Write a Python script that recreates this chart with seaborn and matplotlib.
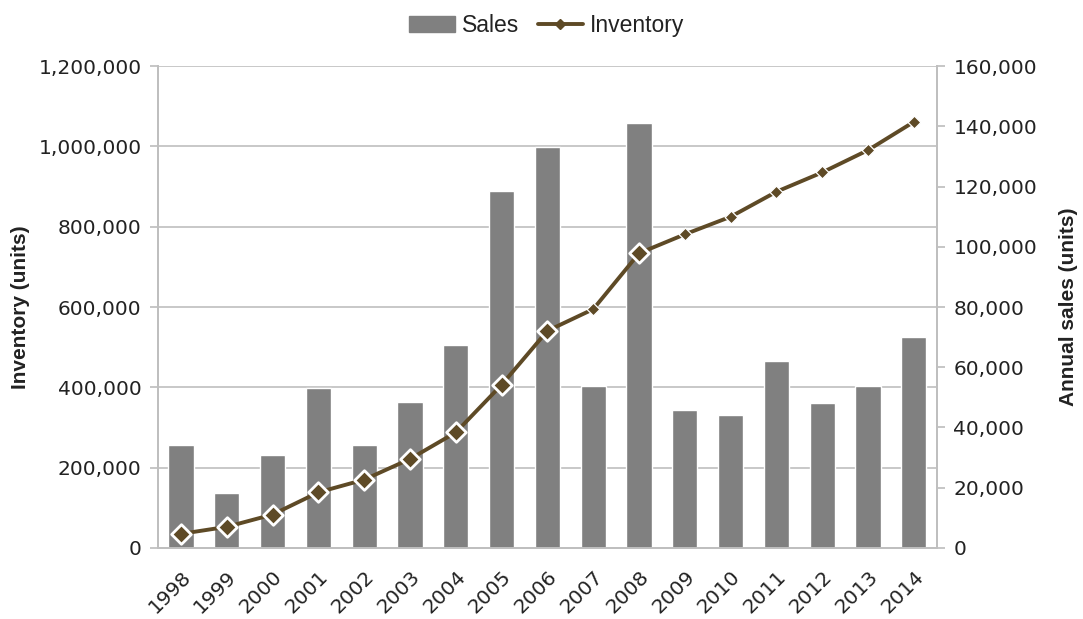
import matplotlib.pyplot as plt
import matplotlib.ticker as mticker
from matplotlib.patches import Patch
from matplotlib.lines import Line2D
import numpy as np
import pandas as pd
import seaborn as sns

years = [1998, 1999, 2000, 2001, 2002, 2003, 2004, 2005, 2006,
         2007, 2008, 2009, 2010, 2011, 2012, 2013, 2014]
sales = [34000, 18300, 30900, 53200, 34000, 48400, 67400, 118600, 133300,
         53900, 141200, 45900, 44200, 62200, 48100, 53900, 70200]
inventory = [34800, 52300, 82900, 138300, 169900, 221400, 287600, 406300, 540700,
             594700, 734000, 781200, 825000, 887300, 935500, 991000, 1061400]
outlined_years = [1998, 1999, 2000, 2001, 2002, 2003, 2004, 2005, 2006, 2008]

df = pd.DataFrame({"year": [str(y) for y in years], "pos": np.arange(len(years)),
                   "sales": sales, "inventory": inventory})
df["outlined"] = [y in outlined_years for y in years]

sns.set_theme(style="white")
plt.rcParams['font.family'] = ['DejaVu Sans']

bar_color = "#808080"
line_color = "#5E4A26"
grid_color = "#BFBFBF"
text_color = "#222222"
narrow = ['Liberation Sans Narrow', 'Liberation Sans', 'DejaVu Sans']

fig = plt.figure(figsize=(10.83, 6.19), dpi=100)
ax = fig.add_axes([0.146, 0.115, 0.719, 0.778])

# left axis: inventory scale + gridlines
ax.set_ylim(0, 1200000)
ax.set_yticks(np.arange(0, 1200001, 200000))
ax.yaxis.set_major_formatter(mticker.StrMethodFormatter("{x:,.0f}"))
ax.grid(axis="y", color=grid_color, linewidth=1.2)
ax.set_axisbelow(True)
ax.set_ylabel("Inventory (units)", fontsize=15, fontweight="bold", family=narrow,
              labelpad=6, color=text_color)

# right axis: sales bars
ax2 = ax.twinx()
sns.barplot(data=df, x="pos", y="sales", ax=ax2, color=bar_color, width=0.55,
            saturation=1, native_scale=False)
ax2.set_ylim(0, 160000)
ax2.set_yticks(np.arange(0, 160001, 20000))
ax2.yaxis.set_major_formatter(mticker.StrMethodFormatter("{x:,.0f}"))
ax2.set_ylabel("Annual sales (units)", fontsize=15, fontweight="bold", family=narrow,
               labelpad=16, color=text_color)
ax2.grid(False)

# top layer: inventory line on left scale
ax3 = ax.twinx()
sns.lineplot(data=df, x="pos", y="inventory", ax=ax3, color=line_color, linewidth=2.8)
sns.scatterplot(data=df[df["outlined"]], x="pos", y="inventory", ax=ax3, marker="D",
                s=100, color=line_color, edgecolor="white", linewidth=2.0, zorder=5)
sns.scatterplot(data=df[~df["outlined"]], x="pos", y="inventory", ax=ax3, marker="D",
                s=42, color=line_color, edgecolor="white", linewidth=0.9, zorder=5)
ax3.set_ylim(0, 1200000)
ax3.set_yticks([])
ax3.set_ylabel("")
ax3.grid(False)

ax.set_xlim(-0.5, len(years) - 0.5)
ax.set_xticks(df["pos"])
ax.set_xticklabels(df["year"], rotation=45, ha="right", rotation_mode="anchor")
ax.set_xlabel("")
ax2.set_xlabel("")
ax3.set_xlabel("")

for a in (ax, ax2, ax3):
    a.spines["top"].set_visible(False)
    for side in ("left", "right", "bottom"):
        a.spines[side].set_color(grid_color)
        a.spines[side].set_linewidth(1.2)

ax.tick_params(axis="y", which="both", left=True, length=6, color=grid_color,
               labelsize=14.5, labelcolor=text_color, pad=6)
ax.tick_params(axis="x", bottom=False, labelsize=14.5, labelcolor=text_color, pad=8)
ax2.tick_params(axis="y", right=True, length=6, color=grid_color,
                labelsize=14.5, labelcolor=text_color, pad=6)

handles = [Patch(facecolor=bar_color, edgecolor=bar_color, label="Sales"),
           Line2D([0], [0], color=line_color, linewidth=2.8, marker="D", markersize=5,
                  label="Inventory")]
fig.legend(handles=handles, loc="upper center", bbox_to_anchor=(0.505, 1.01), ncol=2,
           frameon=False, prop={"family": narrow, "size": 16.5}, handlelength=2.0,
           columnspacing=0.8, handletextpad=0.3, labelcolor=text_color)

fig.savefig("out.png", dpi=100)
